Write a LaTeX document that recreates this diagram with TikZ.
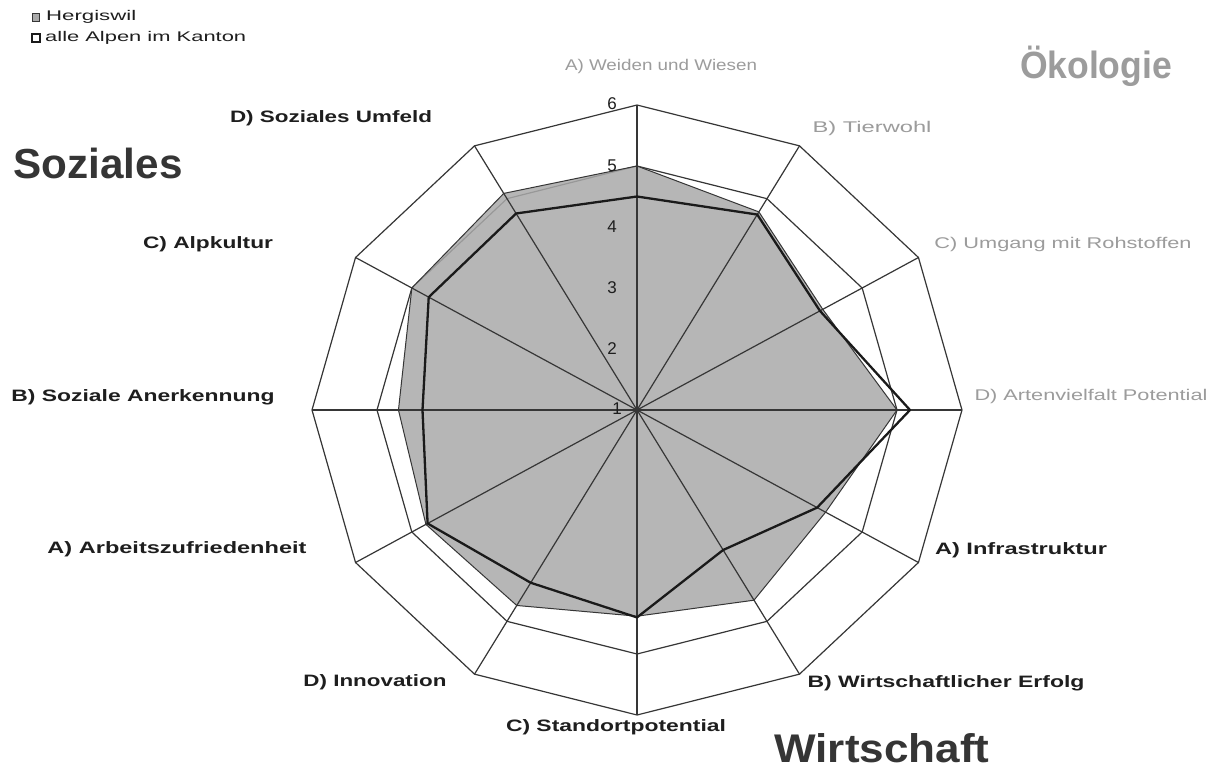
\documentclass[tikz,border=0pt]{standalone}
\usepackage{fontspec}
\setmainfont{Liberation Sans}
\usepackage{graphicx}
\definecolor{gridc}{HTML}{363636}
\definecolor{greyfill}{HTML}{AAAAAA}
\definecolor{lightlab}{HTML}{9C9C9C}
\definecolor{darklab}{HTML}{1E1E1E}
\definecolor{seriesc}{HTML}{1A1A1A}
\newcommand{\fitw}[2]{\resizebox{#1pt}{\height}{#2}}
\begin{document}
\begin{tikzpicture}[x=1pt,y=-1pt,
  gridline/.style={draw=gridc,line width=1.2pt,line join=miter},
  spoke/.style={draw=gridc,line width=1.2pt},
  blab/.style={inner sep=0pt,text=darklab,font=\bfseries\fontsize{16.5}{18}\selectfont},
  glab/.style={inner sep=0pt,text=lightlab,font=\fontsize{15.5}{17}\selectfont},
  biglab/.style={inner sep=0pt,font=\bfseries\fontsize{42}{46}\selectfont},
  tick/.style={inner sep=0pt,text=darklab,font=\fontsize{17}{18}\selectfont},
  leg/.style={inner sep=0pt,text=darklab,font=\fontsize{14}{15}\selectfont}]
\fill[white] (0,0) rectangle (1218,771);
\useasboundingbox (0,0) rectangle (1218,771);
\coordinate (O) at (637,410);
% grid coordinates
\foreach \i in {0,...,11}{
  \coordinate (r6-\i) at ({637+65*5*cos(90-30*\i)},{410-61*5*sin(90-30*\i)});
  \coordinate (r5-\i) at ({637+65*4*cos(90-30*\i)},{410-61*4*sin(90-30*\i)});
}
% series coordinates
\foreach \v [count=\j from 0] in {5.0,4.75,4.3,5.0,4.35,4.6,4.38,4.7,4.75,4.67,5.0,5.1}{
  \coordinate (g\j) at ({637+65*(\v-1)*cos(90-30*\j)},{410-61*(\v-1)*sin(90-30*\j)});
}
\foreach \v [count=\j from 0] in {4.5,4.7,4.25,5.2,4.2,3.65,4.4,4.27,4.72,4.3,4.7,4.72}{
  \coordinate (b\j) at ({637+65*(\v-1)*cos(90-30*\j)},{410-61*(\v-1)*sin(90-30*\j)});
}
% rings
\draw[gridline] (r6-0) -- (r6-1) -- (r6-2) -- (r6-3) -- (r6-4) -- (r6-5) -- (r6-6) -- (r6-7) -- (r6-8) -- (r6-9) -- (r6-10) -- (r6-11) -- cycle;
\draw[gridline] (r5-0) -- (r5-1) -- (r5-2) -- (r5-3) -- (r5-4) -- (r5-5) -- (r5-6) -- (r5-7) -- (r5-8) -- (r5-9) -- (r5-10) -- (r5-11) -- cycle;
% Hergiswil area
\fill[greyfill,fill opacity=0.85] (g0) -- (g1) -- (g2) -- (g3) -- (g4) -- (g5) -- (g6) -- (g7) -- (g8) -- (g9) -- (g10) -- (g11) -- cycle;
% spokes
\foreach \i in {0,...,11}{ \draw[spoke] (O) -- (r6-\i); }
\fill[gridc] (O) circle (3);
% Hergiswil outline
\draw[draw=gridc,line width=1pt,line join=round] (g0) -- (g1) -- (g2) -- (g3) -- (g4) -- (g5) -- (g6) -- (g7) -- (g8) -- (g9) -- (g10) -- (g11) -- cycle;
% alle Alpen im Kanton
\draw[draw=seriesc,line width=2.3pt,line join=round] (b0) -- (b1) -- (b2) -- (b3) -- (b4) -- (b5) -- (b6) -- (b7) -- (b8) -- (b9) -- (b10) -- (b11) -- cycle;
% tick labels
\node[tick] (t6) at (612,104) {6};
\node[tick] (t5) at (612,166) {5};
\node[tick] (t4) at (612,227) {4};
\node[tick] (t3) at (612,288) {3};
\node[tick] (t2) at (612,349) {2};
\node[tick] (t1) at (617,409) {1};
% axis labels
\node[glab] (lA1) at (661,66) {\fitw{192}{A) Weiden und Wiesen}};
\node[glab] (lB1) at (872,128) {\fitw{119}{B) Tierwohl}};
\node[glab] (lC1) at (1063,244) {\fitw{257}{C) Umgang mit Rohstoffen}};
\node[glab] (lD1) at (1091,396) {\fitw{233}{D) Artenvielfalt Potential}};
\node[blab] (lA2) at (1021,550) {\fitw{172}{A) Infrastruktur}};
\node[blab] (lB2) at (946,683) {\fitw{277}{B) Wirtschaftlicher Erfolg}};
\node[blab] (lC2) at (616,727) {\fitw{220}{C) Standortpotential}};
\node[blab] (lD2) at (375,682) {\fitw{143}{D) Innovation}};
\node[blab] (lA3) at (177,549) {\fitw{259}{A) Arbeitszufriedenheit}};
\node[blab] (lB3) at (143,397) {\fitw{263}{B) Soziale Anerkennung}};
\node[blab] (lC3) at (208,244) {\fitw{130}{C) Alpkultur}};
\node[blab] (lD3) at (331,118) {\fitw{202}{D) Soziales Umfeld}};
% group titles
\node[biglab,text=darklab!90] (soz) at (98,163) {\fitw{169}{Soziales}};
\node[biglab,text=darklab!90,font=\bfseries\fontsize{40}{44}\selectfont] (wir) at (882,748) {\fitw{215}{Wirtschaft}};
\node[biglab,text=lightlab,font=\bfseries\fontsize{38}{42}\selectfont] (oek) at (1096,66) {\fitw{152}{Ökologie}};
% legend
\draw[draw=gridc,fill=greyfill,line width=0.8pt] (32,13) rectangle (39,21);
\draw[draw=seriesc,fill=white,line width=2pt] (32,34) rectangle (40,42);
\node[leg,anchor=west] (leg1) at (46,17) {\fitw{90}{Hergiswil}};
\node[leg,anchor=west] (leg2) at (45,38) {\fitw{201}{alle Alpen im Kanton}};
\end{tikzpicture}
\end{document}
